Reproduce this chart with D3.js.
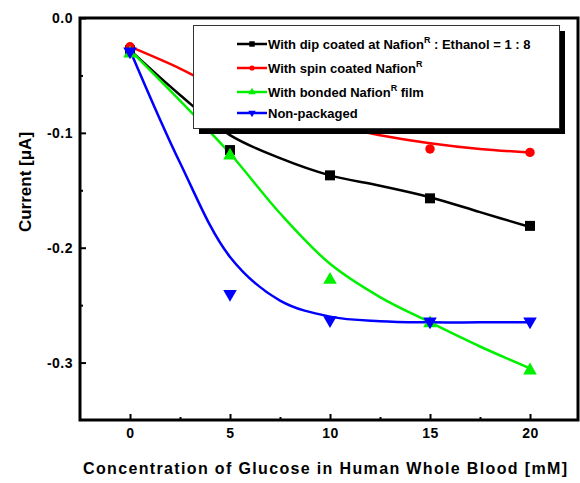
<!DOCTYPE html>
<html>
<head>
<meta charset="utf-8">
<script src="https://cdn.jsdelivr.net/npm/d3@7"></script>
<style>
  body { margin: 0; background: #fff; }
  text { font-family: "Liberation Sans", Arial, sans-serif; font-weight: bold; }
</style>
</head>
<body>
<svg id="chart" width="580" height="483"></svg>
<script>
// measured data points (glucose mM -> current uA)
const glucose = [0, 5, 10, 15, 20];
const dipCoated = [-0.028, -0.115, -0.137, -0.157, -0.181];
const spinCoated = [-0.025, -0.07, -0.095, -0.114, -0.117];
const bondedFilm = [-0.030, -0.119, -0.227, -0.265, -0.306];
const nonPackaged = [-0.030, -0.241, -0.264, -0.265, -0.265];

// fitted curves
const fitX = [0, 2.5, 5, 7.5, 10, 12.5, 15, 17.5, 20];
const dipFit = [-0.028, -0.067, -0.102, -0.122, -0.137, -0.146, -0.156, -0.169, -0.182];
const spinFit = [-0.025, -0.044, -0.066, -0.082, -0.093, -0.102, -0.109, -0.114, -0.117];
const bondedFit = [-0.028, -0.072, -0.118, -0.170, -0.214, -0.243, -0.265, -0.286, -0.305];
const nonPackFit = [-0.028, -0.126, -0.208, -0.246, -0.260, -0.264, -0.265, -0.265, -0.265];

const xTicks = [0, 5, 10, 15, 20];
const yTicks = [0, -0.1, -0.2, -0.3];

const series = [
  { name: "dip", color: "#000000", symbol: d3.symbolSquare, size: 100, pts: dipCoated, fit: dipFit },
  { name: "spin", color: "#ff0000", symbol: d3.symbolCircle, size: 70, pts: spinCoated, fit: spinFit },
  { name: "bonded", color: "#00f000", symbol: d3.symbolTriangle, size: 80, pts: bondedFilm, fit: bondedFit },
  { name: "non", color: "#0000ff", symbol: d3.symbolTriangle, size: 80, flip: true, pts: nonPackaged, fit: nonPackFit }
];

const svg = d3.select("#chart");
const mLeft = 80, mRight = 578, mTop = 18, mBottom = 420;

const x = d3.scaleLinear().domain([-2.5, 22.4]).range([mLeft, mRight]);
const y = d3.scaleLinear().domain([-0.35, 0]).range([mBottom, mTop]);

// curves
const line = d3.line().curve(d3.curveCatmullRom.alpha(0.5))
  .x(d => x(d[0])).y(d => y(d[1]));

series.forEach(s => {
  svg.append("path")
    .attr("d", line(fitX.map((v, i) => [v, s.fit[i]])))
    .attr("fill", "none")
    .attr("stroke", s.color)
    .attr("stroke-width", 2.5);
});

// markers
series.forEach(s => {
  svg.append("g").selectAll("path")
    .data(glucose.map((g, i) => [g, s.pts[i]]))
    .join("path")
    .attr("d", d3.symbol().type(s.symbol).size(s.size))
    .attr("transform", d => `translate(${x(d[0])},${y(d[1]) + (s.flip ? -1 : (s.symbol === d3.symbolTriangle ? 1 : 0))})` + (s.flip ? " rotate(180)" : ""))
    .attr("fill", s.color);
});

// axes
const xAxis = svg.append("g").attr("transform", `translate(0,${mBottom})`)
  .call(d3.axisBottom(x).tickValues(xTicks).tickSize(-6).tickPadding(8).tickFormat(d3.format("d")));
const xMinor = svg.append("g").attr("transform", `translate(0,${mBottom})`)
  .call(d3.axisBottom(x).tickValues([2.5, 7.5, 12.5, 17.5]).tickSize(-3).tickFormat(""));
const yAxis = svg.append("g").attr("transform", `translate(${mLeft},0)`)
  .call(d3.axisLeft(y).tickValues(yTicks).tickSize(-6).tickPadding(7).tickFormat(d => d.toFixed(1)));
const yMinor = svg.append("g").attr("transform", `translate(${mLeft},0)`)
  .call(d3.axisLeft(y).tickValues([-0.05, -0.15, -0.25]).tickSize(-3).tickFormat(""));

[xAxis, xMinor, yAxis, yMinor].forEach(a => {
  a.select(".domain").remove();
  a.selectAll("line").attr("stroke", "#000").attr("stroke-width", 2);
  a.selectAll("text").attr("font-size", 14).attr("fill", "#000")
    .style("letter-spacing", "0.5px")
    .style("font-family", "'Liberation Sans', Arial, sans-serif").style("font-weight", "bold");
});

// frame
svg.append("rect")
  .attr("x", mLeft).attr("y", mTop)
  .attr("width", mRight - mLeft).attr("height", mBottom - mTop)
  .attr("fill", "none").attr("stroke", "#000").attr("stroke-width", 3);

// axis titles
svg.append("text")
  .attr("x", 83).attr("y", 474)
  .attr("font-size", 16)
  .attr("textLength", 484).attr("lengthAdjust", "spacing")
  .text("Concentration of Glucose in Human Whole Blood [mM]");

svg.append("text")
  .attr("transform", "translate(31,182) rotate(-90)")
  .attr("text-anchor", "middle")
  .attr("font-size", 17)
  .text("Current [\u03bcA]");

// legend
const lg = svg.append("g");
lg.append("rect").attr("x", 199).attr("y", 31).attr("width", 366).attr("height", 103).attr("fill", "#000");
lg.append("rect").attr("x", 193.5).attr("y", 25.5).attr("width", 366).attr("height", 103)
  .attr("fill", "#fff").attr("stroke", "#333").attr("stroke-width", 1);

const legendRows = [
  { s: series[0], parts: ["With dip coated at Nafion", "R", " : Ethanol = 1 : 8"] },
  { s: series[1], parts: ["With spin coated Nafion", "R", ""] },
  { s: series[2], parts: ["With bonded Nafion", "R", " film"] },
  { s: series[3], parts: ["Non-packaged", "", ""] }
];
const rowY = [44, 68, 92, 113];

legendRows.forEach((r, i) => {
  const yy = rowY[i];
  lg.append("line").attr("x1", 237).attr("x2", 267).attr("y1", yy).attr("y2", yy)
    .attr("stroke", r.s.color).attr("stroke-width", 2.5);
  lg.append("path")
    .attr("d", d3.symbol().type(r.s.symbol).size(r.s.size * 0.3))
    .attr("transform", `translate(252,${yy})` + (r.s.flip ? " rotate(180)" : ""))
    .attr("fill", r.s.color);
  const t = lg.append("text").attr("x", 268).attr("y", yy + 5).attr("font-size", 13);
  t.append("tspan").text(r.parts[0]);
  if (r.parts[1]) t.append("tspan").attr("dy", -6).attr("font-size", 9).text(r.parts[1]);
  if (r.parts[2]) t.append("tspan").attr("dy", 6).text(r.parts[2]);
});
</script>
</body>
</html>
